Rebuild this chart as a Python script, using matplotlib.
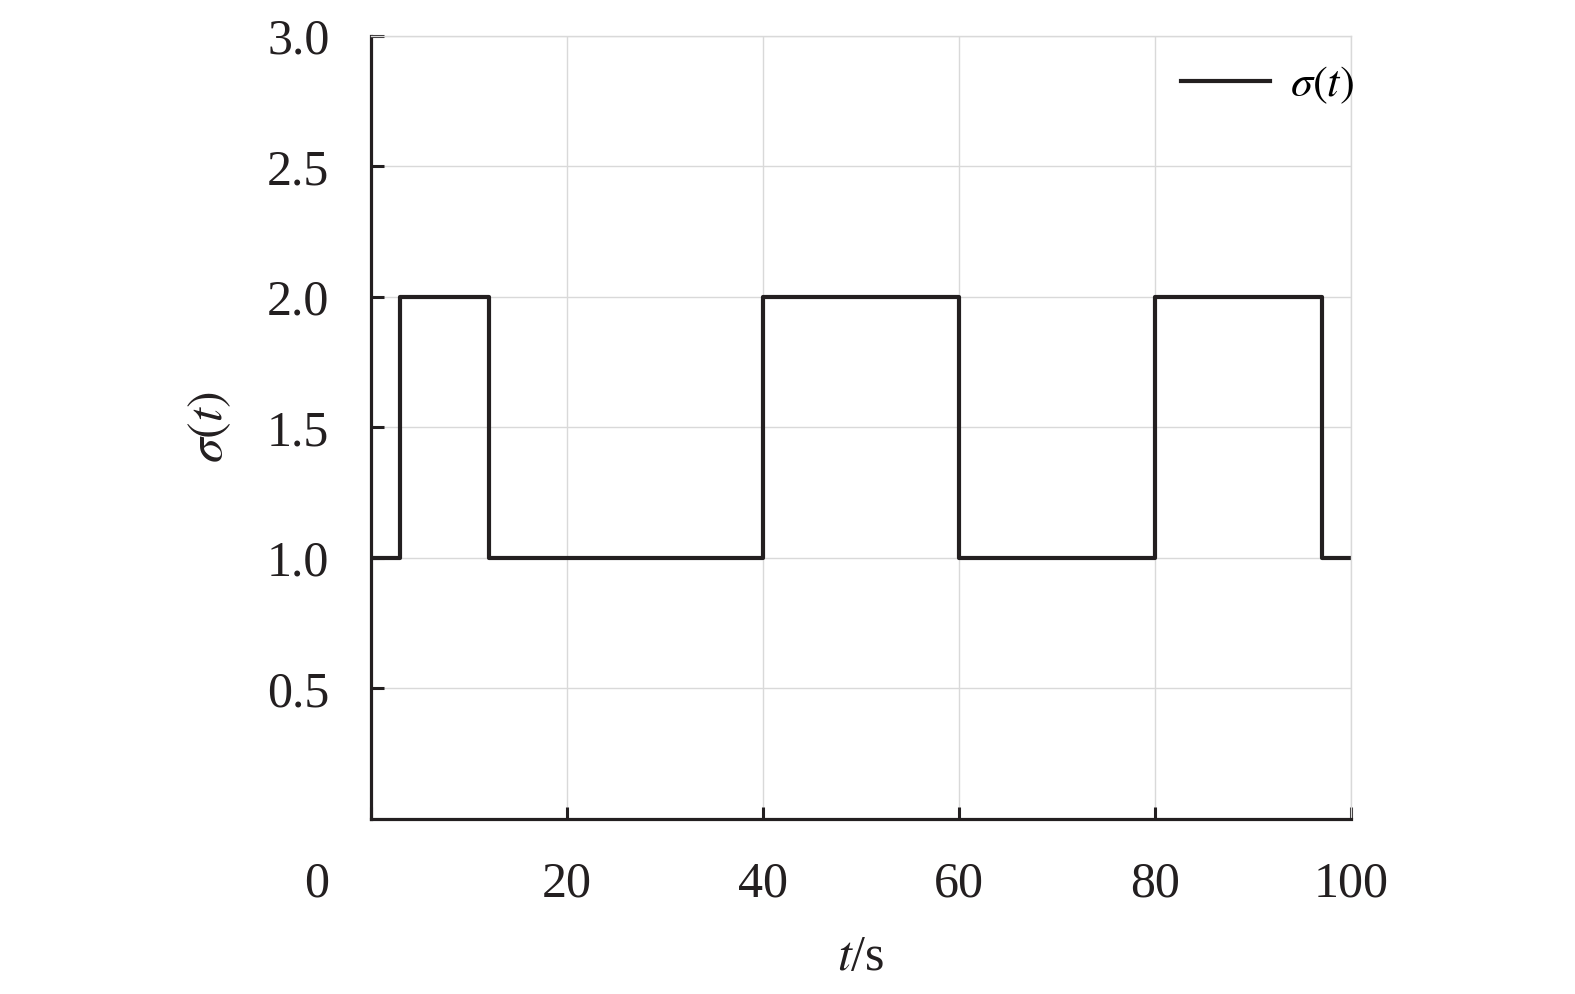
import numpy as np
import matplotlib
matplotlib.use("Agg")
import matplotlib.pyplot as plt
from matplotlib.transforms import ScaledTranslation

plt.rcParams['font.family'] = ['Liberation Serif', 'DejaVu Serif']
plt.rcParams['mathtext.fontset'] = 'stix'

# switching times and sigma values (step, held until next switch)
t_switch = [0, 3, 12, 40, 60, 80, 97, 100]
sigma_val = [1, 2, 1, 2, 1, 2, 1, 1]

xticks = [0, 20, 40, 60, 80, 100]
yticks = [0.5, 1.0, 1.5, 2.0, 2.5, 3.0]

fig = plt.figure(figsize=(15.75, 9.94), dpi=100)
ax = fig.add_axes([0.2356, 0.1761, 0.6222, 0.7877])

ax.step(t_switch, sigma_val, where='post', color='#231f20', lw=3.0, label=r'$\sigma(t)$')

ax.set_xlim(0, 100)
ax.set_ylim(0, 3.0)
ax.set_xticks(xticks)
ax.set_yticks(yticks)
ax.set_yticklabels(['%.1f' % v for v in yticks])
ax.grid(True, color='#d9d9d9', lw=1.0)
ax.set_axisbelow(True)

ax.tick_params(direction='in', length=9, width=2.2, color='#231f20',
               labelsize=36, pad=30, labelcolor='#231f20')
for s in ['left', 'bottom']:
    ax.spines[s].set_linewidth(2.3)
    ax.spines[s].set_color('#231f20')
for s in ['top', 'right']:
    ax.spines[s].set_linewidth(1.0)
    ax.spines[s].set_color('#d9d9d9')

# the "0" on the x axis sits left of the origin
lab0 = ax.get_xticklabels()[0]
lab0.set_transform(lab0.get_transform() + ScaledTranslation(-0.54, 0, fig.dpi_scale_trans))

ax.set_xlabel(r'$t$/s', fontsize=36, color='#231f20')
ax.set_ylabel(r'$\sigma(t)$', fontsize=36, color='#231f20')
ax.xaxis.set_label_coords(0.5, -0.148)
ax.yaxis.set_label_coords(-0.141, 0.5)

ax.legend(loc='upper right', bbox_to_anchor=(1.012, 0.975), frameon=False,
          fontsize=32, handlelength=2.0, handletextpad=0.45,
          borderaxespad=0.0, borderpad=0.2)

fig.savefig('out.png', dpi=100)
